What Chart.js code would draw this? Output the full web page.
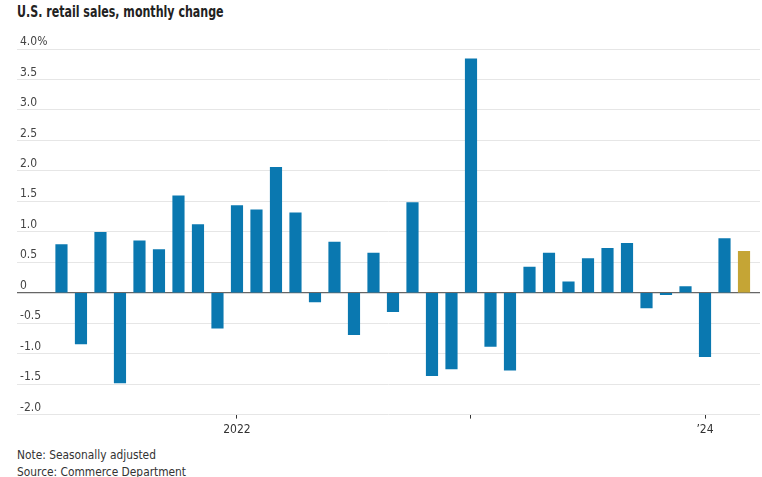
<!DOCTYPE html>
<html>
<head>
<meta charset="utf-8">
<script src="https://cdn.jsdelivr.net/npm/chart.js@4.4.1/dist/chart.umd.min.js"></script>
<style>
body{margin:0;background:#fff;width:762px;height:477px;overflow:hidden;font-family:"DejaVu Sans Condensed","DejaVu Sans",sans-serif;color:#222;}
#title{position:absolute;left:17px;top:2px;font-weight:bold;font-size:15px;line-height:20px;color:#222;white-space:nowrap;transform:scaleX(0.82);transform-origin:left center;}
#wrap{position:absolute;left:0;top:28px;width:762px;height:415px;}
#foot{position:absolute;left:17px;top:446px;font-size:13px;line-height:17px;color:#333;white-space:nowrap;transform:scaleX(0.91);transform-origin:left center;}
</style>
</head>
<body>
<div id="title">U.S. retail sales, monthly change</div>
<div id="wrap"><canvas id="c"></canvas></div>
<div id="foot">Note: Seasonally adjusted<br>Source: Commerce Department</div>
<script>
// Apr 2021 .. Mar 2024, percent change from previous month
let months=["Apr 2021","May 2021","Jun 2021","Jul 2021","Aug 2021","Sep 2021","Oct 2021","Nov 2021","Dec 2021",
"Jan 2022","Feb 2022","Mar 2022","Apr 2022","May 2022","Jun 2022","Jul 2022","Aug 2022","Sep 2022","Oct 2022","Nov 2022","Dec 2022",
"Jan 2023","Feb 2023","Mar 2023","Apr 2023","May 2023","Jun 2023","Jul 2023","Aug 2023","Sep 2023","Oct 2023","Nov 2023","Dec 2023",
"Jan 2024","Feb 2024","Mar 2024"];
let changes=[0.79,-0.84,0.99,-1.48,0.85,0.71,1.59,1.12,-0.58,
1.43,1.36,2.06,1.31,-0.15,0.83,-0.69,0.65,-0.31,1.48,-1.36,-1.25,
3.84,-0.88,-1.27,0.42,0.65,0.18,0.56,0.73,0.81,-0.25,-0.03,0.10,
-1.05,0.89,0.68];
let tickIdx=[9,21,33];
let tickText=["2022","","\u201924"];
let yTicks=[-2,-1.5,-1,-0.5,0,0.5,1,1.5,2,2.5,3,3.5,4];

let blue="#0a78b0", gold="#c5a535";
let font='"DejaVu Sans Condensed","DejaVu Sans",sans-serif';

let pts=changes.map((v,i)=>({x:i,y:v}));
let colors=changes.map((v,i)=>i==changes.length-1?gold:blue);

new Chart(document.getElementById("c"),{
type:'bar',
data:{datasets:[{label:'Monthly change',data:pts,backgroundColor:colors,borderWidth:0,barThickness:11.5}]},
options:{
responsive:true,maintainAspectRatio:false,animation:false,
layout:{padding:{left:11,right:2,top:21,bottom:2}},
plugins:{legend:{display:false},tooltip:{enabled:false}},
scales:{
x:{type:'linear',min:-2.28,max:35.82,offset:false,
 afterBuildTicks:s=>{s.ticks=tickIdx.map(v=>({value:v}));},
 ticks:{autoSkip:false,maxRotation:0,padding:4,color:'#333',font:{family:font,size:12},
  callback:v=>tickText[tickIdx.indexOf(v)]},
 grid:{drawOnChartArea:false,drawTicks:true,tickLength:4,color:'#333',offset:false},
 border:{display:false}},
y:{min:-2,max:4,
 afterBuildTicks:s=>{s.ticks=yTicks.map(v=>({value:v}));},
 ticks:{mirror:true,padding:3,labelOffset:-7,color:'#444',font:{family:font,size:12},
  callback:v=>v==0?"0":(v==4?v.toFixed(1)+"%":v.toFixed(1))},
 grid:{drawTicks:false,color:c=>c.tick&&c.tick.value==0?'#666':'#e6e6e6',lineWidth:c=>c.tick&&c.tick.value==0?1.2:1},
 border:{display:false}}
}
}
});
</script>
</body>
</html>
